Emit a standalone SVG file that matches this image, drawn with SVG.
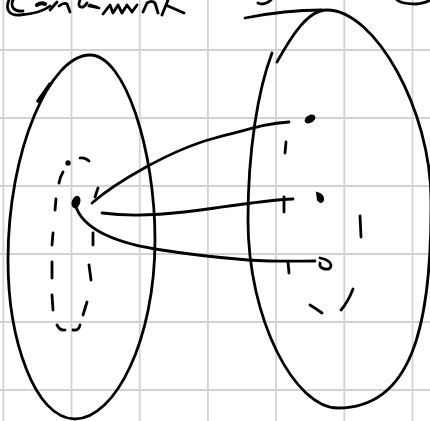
<svg xmlns="http://www.w3.org/2000/svg" width="430" height="421" viewBox="0 0 430 421">
<style>
.grid{stroke:#d2d2d2;stroke-width:1.8;fill:none}
.ink{stroke:#000;stroke-width:2.8;fill:none;stroke-linecap:round;stroke-linejoin:round}
.blob{fill:#000}
</style>
<rect width="430" height="421" fill="#fff"/>
<g id="grid" class="grid">
<path d="M3.3,0V421M71.5,0V421M139.7,0V421M207.9,0V421M276.1,0V421M344.3,0V421M412.5,0V421"/>
<path d="M0,50H430M0,118H430M0,186H430M0,254H430M0,322H430M0,390H430"/>
</g>
<g id="title-scribble" class="ink">
<path d="M9,0 C5,9 9,16 20,15 C33,14 44,11 50,6"/>
<path d="M13,0 C10,7 14,12 23,11"/>
<path d="M37,5 Q41,2 45,4" stroke-width="4"/>
<path d="M50,10 L57,2 M59,6 Q64,2 67,4 L70,12"/>
<path d="M80,0 Q77,8 83,7 Q86,5 87,3 M89,6 L99,8"/>
<path d="M90,5 L97,7"/>
<path d="M103,14 L110,5 L113,13 L118,5 L122,13 L127,5 L132,12 L137,5"/>
<path d="M143,12 L147,3 Q152,0 155,3 L158,13"/>
<path d="M162,15 L168,0 M168,6 L184,13"/>
<path d="M258,3 Q264,6 271,0"/>
<path d="M397,0 Q402,4 416,4 Q426,3 430,0"/>
<path d="M245,18 Q285,10 322,10"/>
</g>
<g id="domain" class="ink">
<path d="M90,55 C125,55 155,150 155,240 C155,340 115,419 75,419 C35,419 8,340 8,260 C8,150 50,55 90,55Z"/>
<path d="M38,101 L50,84" stroke-width="3.5"/>
</g>
<g id="domain-subset" class="ink">
<circle cx="68" cy="163" r="1.3" class="blob"/>
<path d="M80,158 Q85,157 89,161"/>
<path d="M63,172 Q60,177 59,183"/>
<path d="M56,199 L55,210"/>
<path d="M53,233 L52,245"/>
<path d="M52,262 L52,278"/>
<path d="M52,295 L53,310"/>
<path d="M57,325 Q60,331 65,330"/>
<path d="M73,330 Q79,331 80,325"/>
<path d="M83,315 L87,302"/>
<path d="M91,280 L89,265"/>
<path d="M93,245 L93,233"/>
<path d="M95,197 L98,188"/>
</g>
<g id="domain-point">
<ellipse cx="76" cy="202" rx="4.2" ry="6.4" transform="rotate(20 76 202)" class="blob"/>
</g>
<g id="codomain" class="ink">
<path d="M277,62 C292,35 308,10 327,10 C375,10 431,110 431,200 C432,330 410,408 338,408 C295,408 248,320 248,220 C248,150 258,90 272,53"/>
</g>
<g id="codomain-subset" class="ink">
<path d="M286,142 L285,153"/>
<path d="M284,197 L284,212"/>
<path d="M288,262 L289,273"/>
<path d="M310,305 Q315,308 322,313"/>
<path d="M341,310 Q348,302 353,289"/>
<path d="M360,216 L361,237"/>
</g>
<g id="codomain-points">
<ellipse cx="310" cy="119" rx="5.8" ry="3.8" transform="rotate(-30 310 119)" class="blob"/>
<path d="M317,193 Q324,195 323,200 Q321,204 318,200Z" class="blob" stroke="#000" stroke-width="2"/>
<path d="M320,258 Q330,260 331,265 Q331,270 325,269 Q319,268 320,263" class="ink" stroke-width="2.5"/>
</g>
<g id="connectors" class="ink">
<path d="M92,203 C115,183 170,150 215,138 S270,123 289,122"/>
<path d="M102,213 C140,218 180,213 215,208 S270,200 293,199"/>
<path d="M76,207 C85,232 120,243 155,249 C180,253 210,257 248,260 C280,262 300,261 315,261"/>
</g>
</svg>
